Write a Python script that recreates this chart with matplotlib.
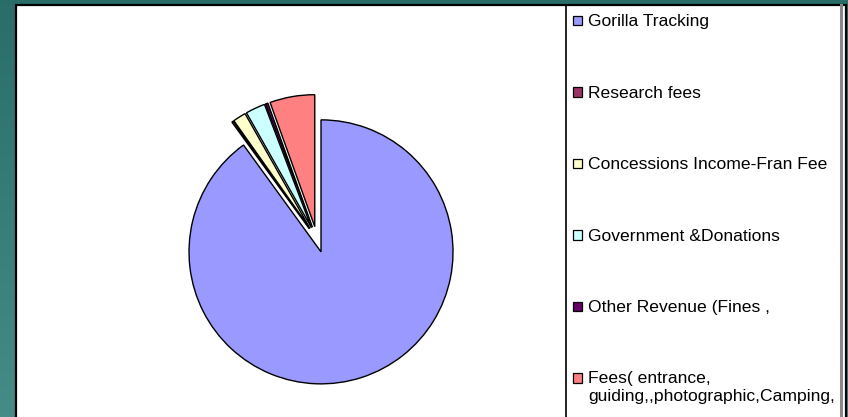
import numpy as np
import matplotlib
matplotlib.use('Agg')
import matplotlib.pyplot as plt
from matplotlib.patches import Rectangle

plt.rcParams['font.family'] = ['Liberation Sans', 'DejaVu Sans']

labels = ['Gorilla Tracking', 'Research fees', 'Concessions Income-Fran Fee',
          'Government &Donations', 'Other Revenue (Fines ,',
          'Fees( entrance,\nguiding,,photographic,Camping,']
shares = [90.1, 0.2, 1.6, 2.4, 0.3, 5.5]
colors = ['#9999ff', '#993366', '#ffffcc', '#ccffff', '#660066', '#ff8080']

W, H = 848, 417
fig = plt.figure(figsize=(W / 100, H / 100), dpi=100)

# teal gradient backdrop
bg = fig.add_axes([0, 0, 1, 1])
grad = np.linspace(0, 1, 256).reshape(-1, 1)
top = np.array([0.16, 0.43, 0.41])
bot = np.array([0.27, 0.55, 0.53])
img = top + grad[..., None] * (bot - top)
bg.imshow(img, aspect='auto', extent=(0, W, 0, H), origin='upper')
bg.set_xlim(0, W); bg.set_ylim(0, H); bg.axis('off')

ax = fig.add_axes([0, 0, 1, 1])
ax.set_zorder(1)
ax.patch.set_alpha(0)

# white chart panel
ax.add_patch(Rectangle((16, -10), 830, H - 5 + 10, facecolor='white',
                       edgecolor='black', lw=1.6, zorder=0))

wedges, _ = ax.pie(shares, colors=colors, startangle=90, counterclock=False,
                   explode=[13] * len(shares), radius=132, center=(317, 177.5),
                   wedgeprops=dict(edgecolor='black', linewidth=1.0))

# legend box
ax.plot([566, 566], [-5, H - 5], color='black', lw=1.2, zorder=2)
ax.plot([841, 841], [-5, H - 5], color='#888888', lw=2.2, zorder=2)

y0, step = H - 20.5, 71.5
for i, (lab, col) in enumerate(zip(labels, colors)):
    y = y0 - i * step
    ax.add_patch(Rectangle((572.5, y - 4.5), 9.5, 9.5, facecolor=col,
                           edgecolor='black', lw=0.9, zorder=3))
    ax.text(588, y + 6.5, lab, fontsize=12.6, va='top', ha='left',
            color='black', linespacing=1.2, zorder=3)

ax.set_xlim(0, W)
ax.set_ylim(0, H)
ax.axis('off')

fig.savefig('out.png', dpi=100)
